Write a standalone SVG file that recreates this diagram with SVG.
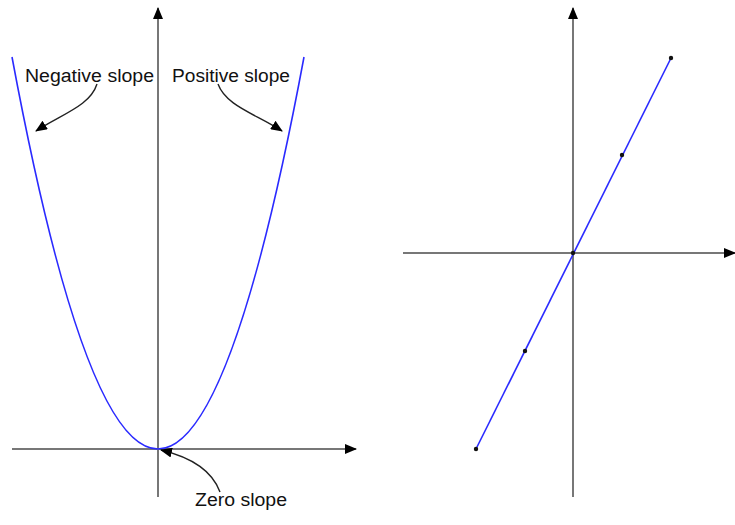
<svg xmlns="http://www.w3.org/2000/svg" width="735" height="525" viewBox="0 0 735 525">
<style>
.axis{stroke:#777;stroke-width:2;fill:none}
.curve{stroke:#2a2aff;stroke-width:1.6;fill:none}
.lbl{font-family:"Liberation Sans","DejaVu Sans",sans-serif;font-size:18px;fill:#111}
.pointer{stroke:#222;stroke-width:1.4;fill:none}
.dot{fill:#111}
</style>
<defs>
<marker id="ax" viewBox="0 0 12 10" refX="11" refY="5" markerWidth="12" markerHeight="10" markerUnits="userSpaceOnUse" orient="auto"><path d="M0,0 L12,5 L0,10 Z" fill="#000"/></marker>
<marker id="ptr" viewBox="0 0 12 10" refX="11" refY="5" markerWidth="12" markerHeight="10" markerUnits="userSpaceOnUse" orient="auto"><path d="M0,0 L12,5 L0,10 Z" fill="#000"/></marker>
</defs>
<g id="left-axes">
<line class="axis" x1="158" y1="497" x2="158" y2="8" marker-end="url(#ax)"/>
<line class="axis" x1="12" y1="449" x2="356" y2="449" marker-end="url(#ax)"/>
</g>
<g id="parabola">
<path class="curve" d="M12,57 Q158,841 304,57"/>
</g>
<g id="label-negative"><text class="lbl" x="25" y="82" textLength="129" lengthAdjust="spacingAndGlyphs">Negative slope</text></g>
<g id="label-positive"><text class="lbl" x="172" y="82" textLength="118" lengthAdjust="spacingAndGlyphs">Positive slope</text></g>
<g id="label-zero"><text class="lbl" x="195" y="506" textLength="92" lengthAdjust="spacingAndGlyphs">Zero slope</text></g>
<g id="connectors">
<path class="pointer" d="M97,84 C90,106 62,114 36,131" marker-end="url(#ptr)"/>
<path class="pointer" d="M218,84 C226,106 256,114 282,131" marker-end="url(#ptr)"/>
<path class="pointer" d="M220,492 C212,470 190,457 161,450" marker-end="url(#ptr)"/>
</g>
<g id="right-axes">
<line class="axis" x1="573" y1="497" x2="573" y2="8" marker-end="url(#ax)"/>
<line class="axis" x1="403" y1="253" x2="735" y2="253" marker-end="url(#ax)"/>
</g>
<g id="line">
<line class="curve" x1="476" y1="449" x2="671" y2="58"/>
<circle class="dot" cx="476" cy="449" r="2.2"/>
<circle class="dot" cx="525" cy="351" r="2.2"/>
<circle class="dot" cx="573" cy="253" r="2.2"/>
<circle class="dot" cx="622" cy="155" r="2.2"/>
<circle class="dot" cx="671" cy="58" r="2.2"/>
</g>
</svg>
